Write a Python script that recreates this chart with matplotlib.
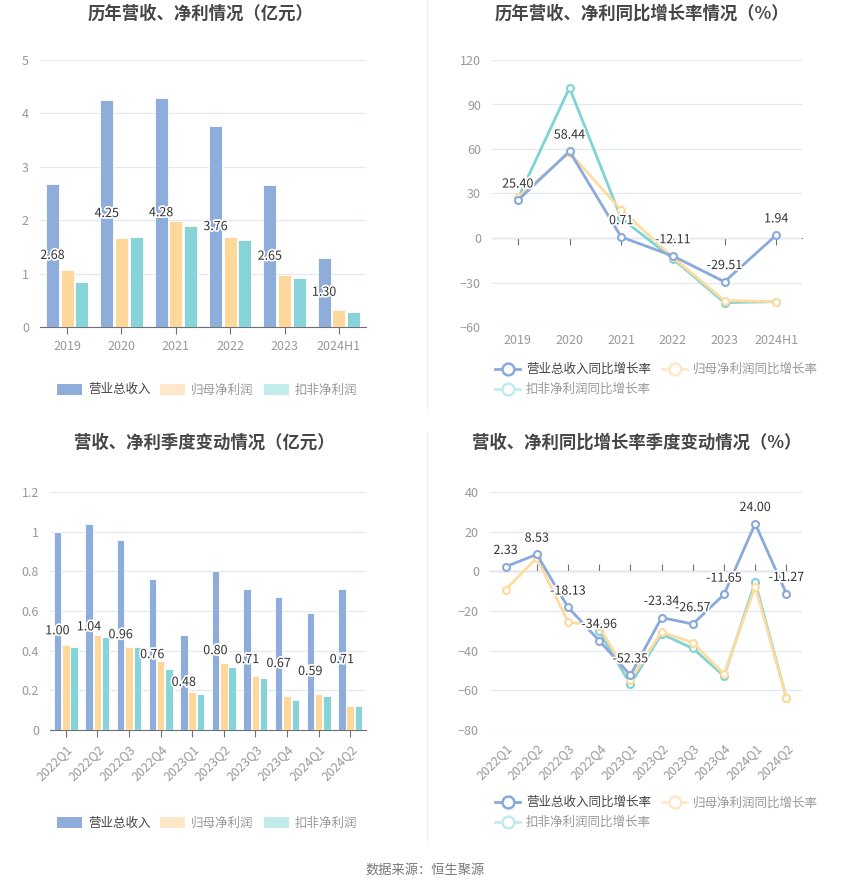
import matplotlib
matplotlib.use("Agg")
import matplotlib.pyplot as plt
import numpy as np
from matplotlib.patches import Patch
from matplotlib.lines import Line2D
from matplotlib.ticker import FuncFormatter
import matplotlib.patheffects as pe

plt.rcParams['font.family'] = ['Noto Sans CJK SC', 'DejaVu Sans']

# ---------------- data ----------------
years = ["2019", "2020", "2021", "2022", "2023", "2024H1"]
rev_y = [2.68, 4.25, 4.28, 3.76, 2.65, 1.30]
np_y = [1.07, 1.67, 1.98, 1.69, 0.97, 0.31]
ded_y = [0.85, 1.68, 1.90, 1.63, 0.92, 0.29]

rev_yg = [25.40, 58.44, 0.71, -12.11, -29.51, 1.94]
np_yg = [27.4, 57.5, 18.9, -13.0, -42.2, -42.9]
ded_yg = [26.5, 101.3, 13.3, -13.9, -43.6, -42.9]

quarters = ["2022Q1", "2022Q2", "2022Q3", "2022Q4", "2023Q1",
            "2023Q2", "2023Q3", "2023Q4", "2024Q1", "2024Q2"]
rev_q = [1.00, 1.04, 0.96, 0.76, 0.48, 0.80, 0.71, 0.67, 0.59, 0.71]
np_q = [0.43, 0.48, 0.42, 0.35, 0.19, 0.34, 0.27, 0.17, 0.18, 0.12]
ded_q = [0.42, 0.47, 0.42, 0.31, 0.18, 0.32, 0.26, 0.15, 0.17, 0.12]

rev_qg = [2.33, 8.53, -18.13, -34.96, -52.35, -23.34, -26.57, -11.65, 24.00, -11.27]
np_qg = [-9.2, 6.7, -25.4, -27.8, -54.6, -30.6, -36.0, -51.8, -7.7, -63.9]
ded_qg = [None, None, None, -30.2, -57.0, -31.6, -38.8, -52.8, -5.5, -63.9]

bar_names = ["营业总收入", "归母净利润", "扣非净利润"]
line_names = ["营业总收入同比增长率", "归母净利润同比增长率", "扣非净利润同比增长率"]

# ---------------- style ----------------
C_BLUE = '#8eaddb'
C_ORANGE = '#fed89b'
C_CYAN = '#86d4d7'
L_BLUE = '#8aa9dc'
L_ORANGE = '#fedb9e'
L_CYAN = '#80d3d5'
LEG_ORANGE = '#fee8c9'
LEG_CYAN = '#c2ecec'
GRID = '#e3e8f2'
TICK = '#999999'
AXIS = '#6e7079'

W, H = 850, 891
fig = plt.figure(figsize=(W / 100, H / 100), dpi=100)
fig.patch.set_facecolor('white')


def rect(l, r, t, b):
    return [l / W, 1 - b / H, (r - l) / W, (b - t) / H]


def fx(x):
    return x / W


def fy(y):
    return 1 - y / H


label_fx = [pe.withStroke(linewidth=2.5, foreground='white')]


def style_common(ax, ylim, yticks, fmt=None):
    ax.set_ylim(*ylim)
    ax.set_yticks(yticks)
    if fmt:
        ax.yaxis.set_major_formatter(FuncFormatter(fmt))
    for s in ['top', 'right', 'left']:
        ax.spines[s].set_visible(False)
    ax.grid(axis='y', color=GRID, linewidth=0.9)
    ax.set_axisbelow(True)
    ax.tick_params(axis='y', length=0, labelsize=9, colors=TICK, pad=8)
    ax.tick_params(axis='x', labelsize=9, colors=TICK)


def bar_panel(ax, cats, rev, npv, ded, ylim, yticks, fmt, width, off, rotate=False):
    x = np.arange(len(cats))
    ax.bar(x - off, rev, width, color=C_BLUE, edgecolor='white', linewidth=0.6, zorder=3)
    ax.bar(x, npv, width, color=C_ORANGE, edgecolor='white', linewidth=0.6, zorder=3)
    ax.bar(x + off, ded, width, color=C_CYAN, edgecolor='white', linewidth=0.6, zorder=3)
    for xi, v in zip(x, rev):
        ax.text(xi - off, v / 2, f"{v:.2f}", ha='center', va='center', fontsize=9,
                color='#333333', path_effects=label_fx, zorder=5)
    ax.set_xlim(-0.5, len(cats) - 0.5)
    style_common(ax, ylim, yticks, fmt)
    ax.spines['bottom'].set_color(AXIS)
    ax.set_xticks(x)
    if rotate:
        ax.set_xticklabels(cats, rotation=45, ha='right', rotation_mode='anchor')
    else:
        ax.set_xticklabels(cats)
    ax.tick_params(axis='x', length=5, color=AXIS, pad=4)


def line_panel(ax, cats, rev, npv, ded, ylim, yticks, rotate=False):
    x = np.arange(len(cats))
    mk = dict(marker='o', markersize=5, markerfacecolor='white', markeredgewidth=1.5)
    ded_arr = np.array([np.nan if v is None else v for v in ded], dtype=float)
    ax.plot(x, ded_arr, color=L_CYAN, linewidth=2, markeredgecolor=L_CYAN, zorder=3, **mk)
    ax.plot(x, npv, color=L_ORANGE, linewidth=2, markeredgecolor=L_ORANGE, zorder=4, **mk)
    ax.plot(x, rev, color=L_BLUE, linewidth=2, markeredgecolor=L_BLUE, zorder=5, **mk)
    for xi, v in zip(x, rev):
        ax.annotate(f"{v:.2f}", (xi, v), xytext=(0, 7), textcoords='offset points',
                    ha='center', va='bottom', fontsize=9, color='#333333',
                    path_effects=label_fx, zorder=6)
    ax.set_xlim(-0.5, len(cats) - 0.5)
    style_common(ax, ylim, yticks)
    ax.spines['bottom'].set_visible(False)
    ax.set_xticks(x)
    if rotate:
        ax.set_xticklabels(cats, rotation=45, ha='right', rotation_mode='anchor')
        ax.tick_params(axis='x', length=0, pad=8)
    else:
        ax.set_xticklabels(cats)
        ax.tick_params(axis='x', length=0, pad=5)
    # zero axis with ticks
    zero_frac = (0 - ylim[0]) / (ylim[1] - ylim[0])
    sec = ax.secondary_xaxis(zero_frac)
    sec.set_xticks(x)
    sec.set_xticklabels([])
    sec.spines['bottom'].set_color(AXIS)
    sec.tick_params(axis='x', length=5, color=AXIS, direction='out')


# ---------------- panels ----------------
ax1 = fig.add_axes(rect(40, 366, 60, 327))
bar_panel(ax1, years, rev_y, np_y, ded_y, (0, 5), [0, 1, 2, 3, 4, 5],
          lambda v, p: f"{v:g}", 0.235, 0.27)

ax2 = fig.add_axes(rect(492, 802, 60, 327))
line_panel(ax2, years, rev_yg, np_yg, ded_yg, (-60, 120), [-60, -30, 0, 30, 60, 90, 120])

ax3 = fig.add_axes(rect(50, 366, 492, 730))
bar_panel(ax3, quarters, rev_q, np_q, ded_q, (0, 1.2), [0, 0.2, 0.4, 0.6, 0.8, 1.0, 1.2],
          lambda v, p: f"{v:g}", 0.235, 0.265, rotate=True)

ax4 = fig.add_axes(rect(490, 802, 492, 730))
line_panel(ax4, quarters, rev_qg, np_qg, ded_qg, (-80, 40), [-80, -60, -40, -20, 0, 20, 40],
           rotate=True)

# ---------------- titles ----------------
tkw = dict(ha='center', va='center', fontsize=12.5, fontweight='bold', color='#464646')
fig.text(fx(201), fy(14), "历年营收、净利情况（亿元）", **tkw)
fig.text(fx(642), fy(14), "历年营收、净利同比增长率情况（%）", **tkw)
fig.text(fx(204), fy(443), "营收、净利季度变动情况（亿元）", **tkw)
fig.text(fx(637), fy(443), "营收、净利同比增长率季度变动情况（%）", **tkw)
fig.text(fx(425), fy(870), "数据来源：恒生聚源", ha='center', va='center',
         fontsize=9.5, color='#777777')

# divider
fig.add_artist(Line2D([fx(427), fx(427)], [fy(0), fy(408)], color='#eeeeee', linewidth=1))
fig.add_artist(Line2D([fx(427), fx(427)], [fy(432), fy(840)], color='#eeeeee', linewidth=1))

# ---------------- legends ----------------
def bar_legend(ax, ycen):
    handles = [Patch(facecolor=C_BLUE, edgecolor='none'),
               Patch(facecolor=LEG_ORANGE, edgecolor='none'),
               Patch(facecolor=LEG_CYAN, edgecolor='none')]
    leg = fig.legend(handles, bar_names, loc='center', bbox_to_anchor=(fx(207), fy(ycen)),
                     ncol=3, frameon=False, fontsize=9, handlelength=2.0, handleheight=1.0,
                     handletextpad=0.45, columnspacing=0.8)
    for i, t in enumerate(leg.get_texts()):
        t.set_color('#444444' if i == 0 else '#999999')


def line_legend(ax, ytop):
    cols = [L_BLUE, LEG_ORANGE, LEG_CYAN]
    handles = [Line2D([0], [0], color=c, linewidth=2, marker='o', markersize=8.5,
                      markerfacecolor='white', markeredgewidth=1.8, markeredgecolor=c)
               for c in cols]
    order = [0, 2, 1]  # column-major fill -> row1: 0,1 ; row2: 2
    leg = fig.legend([handles[i] for i in order], [line_names[i] for i in order],
                     loc='upper left', bbox_to_anchor=(fx(484), fy(ytop)),
                     ncol=2, frameon=False, fontsize=9, handlelength=2.0,
                     handletextpad=0.45, columnspacing=0.9, labelspacing=0.55)
    for t in leg.get_texts():
        t.set_color('#444444' if t.get_text() == line_names[0] else '#999999')


bar_legend(ax1, 390)
bar_legend(ax3, 823)
line_legend(ax2, 352)
line_legend(ax4, 785)

fig.savefig("out.png", dpi=100, facecolor='white')
